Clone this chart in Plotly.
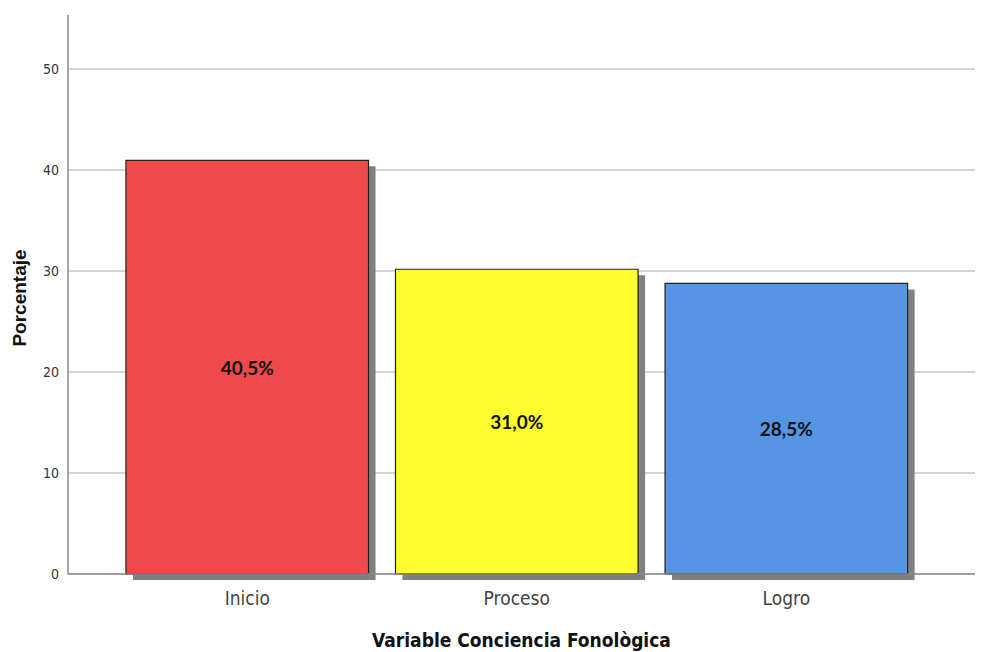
import plotly.graph_objects as go

# Data
categories = ["Inicio", "Proceso", "Logro"]
bar_heights = [41.0, 30.2, 28.8]
bar_labels = ["40,5%", "31,0%", "28,5%"]
bar_colors = ["#EE4A4B", "#FDFD2F", "#5595E3"]

y_ticks = [0, 10, 20, 30, 40, 50]

narrow = "DejaVu Sans Condensed, Liberation Sans Narrow, Liberation Sans, Arial"

fig = go.Figure()

# drop shadow behind each bar (shifted right and down a few pixels)
fig.add_trace(
    go.Bar(
        x=categories,
        y=bar_heights,
        base=-0.6,
        width=0.9,
        offset=-0.424,
        marker=dict(color="#808080", line=dict(width=0)),
        hoverinfo="skip",
        showlegend=False,
    )
)

fig.add_trace(
    go.Bar(
        x=categories,
        y=bar_heights,
        width=0.9,
        offset=-0.45,
        marker=dict(color=bar_colors, line=dict(color="#222222", width=1.2)),
        text=bar_labels,
        textposition="inside",
        insidetextanchor="middle",
        textangle=0,
        textfont=dict(family="Lato, Open Sans, Arial", size=19, color="#111111"),
        texttemplate="<b>%{text}</b>",
        showlegend=False,
    )
)

# axis lines drawn at zero so the shadow can dip below the baseline
fig.add_shape(
    type="line", xref="paper", yref="y", x0=0, x1=1, y0=0, y1=0,
    line=dict(color="#8a8a8a", width=1.5), layer="above",
)
fig.add_shape(
    type="line", xref="paper", yref="y", x0=0, x1=0, y0=0, y1=55.4,
    line=dict(color="#8a8a8a", width=1.5), layer="above",
)

# page body has an 8px margin, so the figure is a bit smaller than the window
fig.update_layout(
    width=991,
    height=644,
    plot_bgcolor="white",
    paper_bgcolor="white",
    barmode="overlay",
    margin=dict(l=60, r=24, t=7, b=71, autoexpand=False),
    xaxis=dict(
        range=[-0.665, 2.7],
        automargin=False,
        showline=False,
        showgrid=False,
        ticks="",
        ticklabelstandoff=4,
        tickfont=dict(family=narrow, size=19, color="#444444"),
        title=dict(
            text="<b>Variable Conciencia Fonològica</b>",
            font=dict(family=narrow, size=19, color="#111111"),
            standoff=25,
        ),
    ),
    yaxis=dict(
        range=[-0.7, 55.4],
        automargin=False,
        tickvals=y_ticks,
        showline=False,
        zeroline=False,
        showgrid=True,
        gridcolor="#d4d4d4",
        gridwidth=2,
        ticks="",
        ticklabelstandoff=8,
        tickfont=dict(family=narrow, size=14, color="#333333"),
        title=dict(
            text="<b>Porcentaje</b>",
            font=dict(family="Liberation Sans, Arial", size=19, color="#111111"),
            standoff=11,
        ),
    ),
)

fig.write_html("out.html")
